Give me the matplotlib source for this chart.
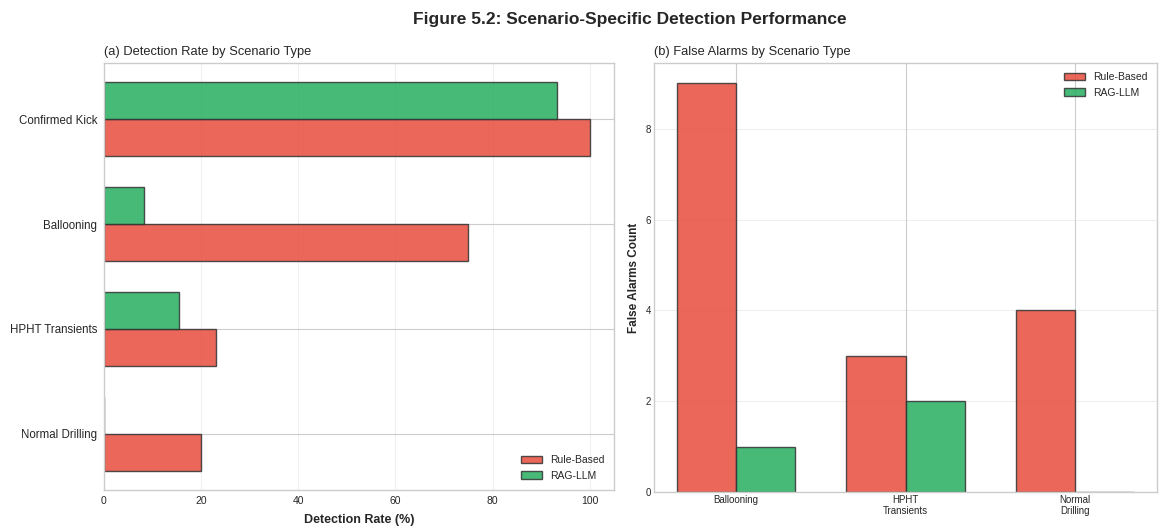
import matplotlib
matplotlib.use("Agg")
import matplotlib.pyplot as plt
import numpy as np

plt.style.use("seaborn-v0_8-whitegrid")
plt.rcParams["font.family"] = ["Liberation Sans", "DejaVu Sans"]

# Detection rate (%) per scenario
scenarios = ["Confirmed Kick", "Ballooning", "HPHT Transients", "Normal Drilling"]
rule_detection = [100.0, 75.0, 23.1, 20.0]
rag_detection = [93.3, 8.3, 15.4, 0.0]

# False alarm counts per non-kick scenario
fa_scenarios = ["Ballooning", "HPHT\nTransients", "Normal\nDrilling"]
rule_false_alarms = [9, 3, 4]
rag_false_alarms = [1, 2, 0]

RULE_COLOR = "#e74c3c"
RAG_COLOR = "#27ae60"
EDGE = "#333333"
h = 0.35

fig = plt.figure(figsize=(11.59, 5.26), dpi=100)
ax1 = fig.add_axes([0.0897, 0.0684, 0.440, 0.8118])
ax2 = fig.add_axes([0.5643, 0.0646, 0.434, 0.8156])

# (a) horizontal bars
y = np.arange(len(scenarios))
ax1.barh(y + h / 2, rule_detection, h, label="Rule-Based", color=RULE_COLOR,
         alpha=0.85, edgecolor=EDGE, linewidth=1)
ax1.barh(y - h / 2, rag_detection, h, label="RAG-LLM", color=RAG_COLOR,
         alpha=0.85, edgecolor=EDGE, linewidth=1)
ax1.set_yticks(y)
ax1.set_yticklabels(scenarios)
ax1.invert_yaxis()
ax1.set_xlabel("Detection Rate (%)", fontsize=9, fontweight="bold", labelpad=6)
ax1.set_title("(a) Detection Rate by Scenario Type", fontsize=9.3, loc="left", pad=6)
ax1.legend(loc="lower right", fontsize=7.5)
ax1.grid(axis="x", alpha=0.3)
ax1.tick_params(axis="y", labelsize=8.3, pad=5)
ax1.tick_params(axis="x", labelsize=7.5, pad=4)

# (b) vertical bars
x = np.arange(len(fa_scenarios))
ax2.bar(x - h / 2, rule_false_alarms, h, label="Rule-Based", color=RULE_COLOR,
        alpha=0.85, edgecolor=EDGE, linewidth=1)
ax2.bar(x + h / 2, rag_false_alarms, h, label="RAG-LLM", color=RAG_COLOR,
        alpha=0.85, edgecolor=EDGE, linewidth=1)
ax2.set_xticks(x)
ax2.set_xticklabels(fa_scenarios)
ax2.set_ylabel("False Alarms Count", fontsize=8.5, fontweight="bold", labelpad=4)
ax2.set_title("(b) False Alarms by Scenario Type", fontsize=9.3, loc="left", pad=6)
ax2.legend(loc="upper right", fontsize=7.5)
ax2.grid(axis="y", alpha=0.3)
ax2.tick_params(labelsize=7, pad=2)

fig.suptitle("Figure 5.2: Scenario-Specific Detection Performance",
             fontsize=12.5, fontweight="bold", x=0.543, y=0.978)

fig.savefig("out.png", dpi=100)
